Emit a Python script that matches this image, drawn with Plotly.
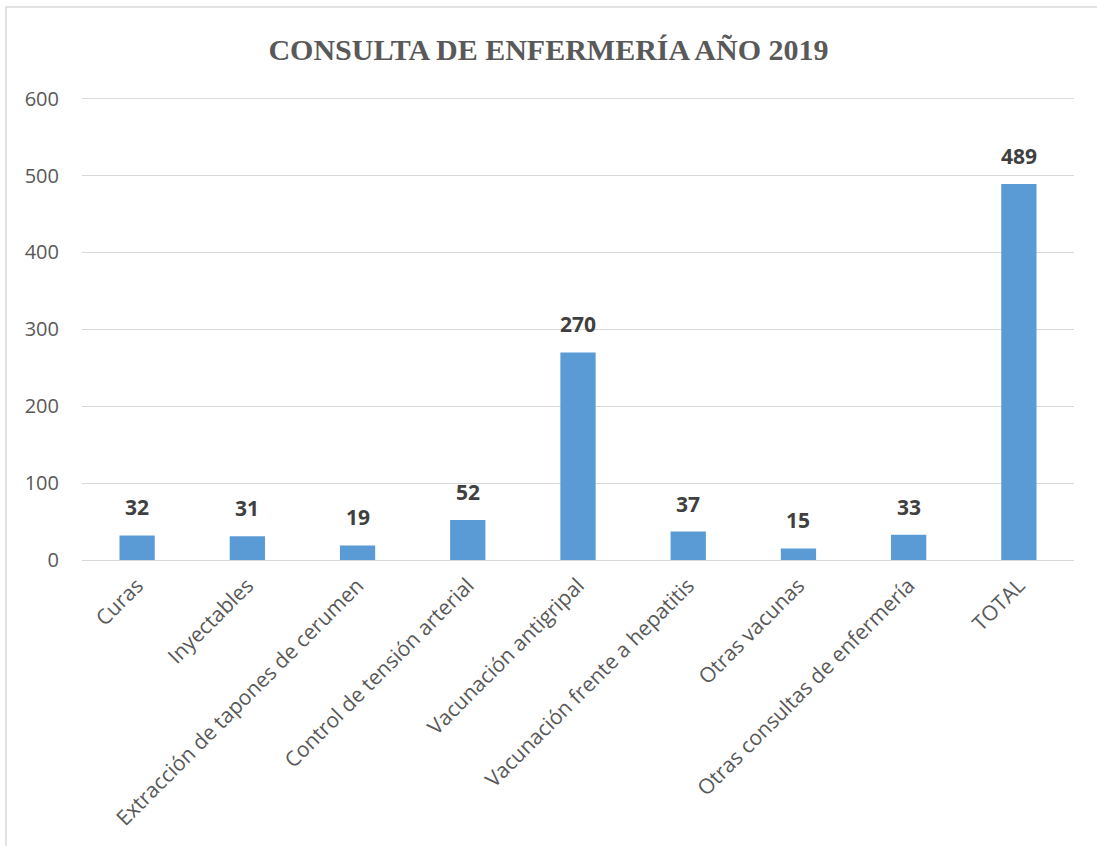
import plotly.graph_objects as go

categories = ["Curas", "Inyectables", "Extracción de tapones de cerumen",
              "Control de tensión arterial", "Vacunación antigripal",
              "Vacunación frente a hepatitis", "Otras vacunas",
              "Otras consultas de enfermería", "TOTAL"]
values = [32, 31, 19, 52, 270, 37, 15, 33, 489]
y_ticks = [0, 100, 200, 300, 400, 500, 600]

W, H = 1097, 846
L, R, T, B = 82, 23, 91, 286
YMAX = 610

fig = go.Figure(go.Bar(
    x=categories, y=values,
    marker=dict(color="#5b9bd5", line=dict(width=0)),
    hoverinfo="x+y",
))
for c, v in zip(categories, values):
    fig.add_annotation(x=c, y=v, text="<b>%d</b>" % v, showarrow=False,
                       yanchor="bottom", yshift=12,
                       font=dict(family="Open Sans", size=21, color="#404040"))

pw = W - L - R
ph = H - T - B
fig.update_layout(
    width=W, height=H,
    margin=dict(l=L, r=R, t=T, b=B, autoexpand=False),
    paper_bgcolor="white", plot_bgcolor="white",
    bargap=0.68,
    title=dict(text="<b>CONSULTA DE ENFERMERÍA AÑO 2019</b>",
               x=0.5, xanchor="center", y=1 - 49 / H, yanchor="middle",
               font=dict(family="Liberation Serif", size=30, color="#595959")),
    xaxis=dict(tickangle=-45, tickfont=dict(family="Open Sans", size=21, color="#595959"),
               showgrid=False, showline=False, ticks="outside", ticklen=4,
               tickcolor="rgba(0,0,0,0)"),
    yaxis=dict(range=[0, YMAX], tickvals=y_ticks, showgrid=True, gridcolor="#d9d9d9",
               gridwidth=1.3, zeroline=True, zerolinecolor="#d9d9d9", zerolinewidth=1.3,
               tickfont=dict(family="Open Sans", size=20, color="#595959"),
               ticks="outside", ticklen=18, tickcolor="rgba(0,0,0,0)"),
    showlegend=False,
    font=dict(family="Open Sans"),
)
fig.add_shape(type="rect", xref="paper", yref="paper",
              x0=(6 - L) / pw, x1=(W + 5 - L) / pw,
              y0=-(B + 5) / ph, y1=1 + (T - 7) / ph,
              line=dict(color="#d9d9d9", width=1.5), layer="below")
fig.write_html("out.html", config={"displayModeBar": False},
               post_script="document.body.style.margin='0';")
